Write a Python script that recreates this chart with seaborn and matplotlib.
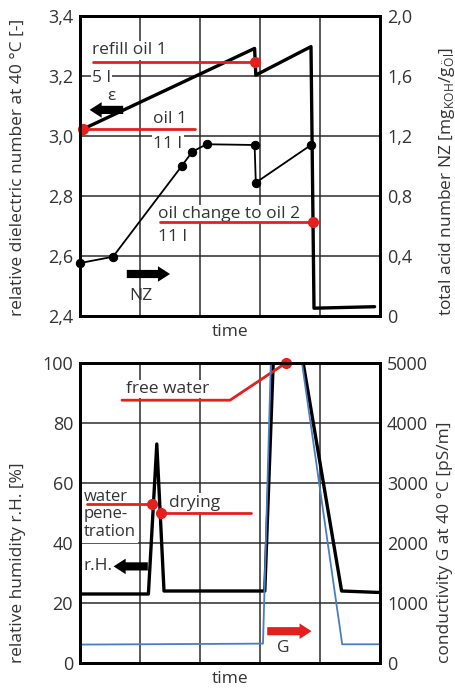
import numpy as np
import pandas as pd
import matplotlib
matplotlib.use("Agg")
import matplotlib.pyplot as plt
from matplotlib.ticker import FuncFormatter
import seaborn as sns

# top panel: dielectric number eps (left axis) and acid number NZ (right axis)
eps_time = [0.05, 2.91, 2.93, 3.85, 3.90, 4.91]
eps_value = [3.023, 3.292, 3.203, 3.298, 2.426, 2.431]
nz_time = [0.0, 0.55, 1.70, 1.87, 2.11, 2.91, 2.93, 3.85]
nz_value = [0.353, 0.395, 1.002, 1.095, 1.145, 1.14, 0.889, 1.14]

# bottom panel: relative humidity r.H. (left axis) and conductivity G (right axis)
rh_time = [0.0, 1.14, 1.28, 1.40, 3.08, 3.22, 3.72, 4.36, 5.0]
rh_value = [23, 23, 73, 24, 24, 100, 100, 24, 23.5]
g_time = [0.0, 3.05, 3.18, 3.70, 4.37, 5.0]
g_value = [307, 323, 5000, 5000, 312, 312]

eps_ticks = [2.4, 2.6, 2.8, 3.0, 3.2, 3.4]
nz_ticks = [0, 0.4, 0.8, 1.2, 1.6, 2.0]
rh_ticks = [0, 20, 40, 60, 80, 100]
g_ticks = [0, 1000, 2000, 3000, 4000, 5000]

RED = "#e3201e"
BLUE = "#4a7dc4"
TXT = "#333333"

sns.set_style("white")
plt.rcParams["font.family"] = ["Open Sans", "DejaVu Sans"]
plt.rcParams["mathtext.fontset"] = "custom"
plt.rcParams["mathtext.rm"] = "Open Sans"


def comma(v, pos):
    if abs(v) < 1e-9:
        return "0"
    return f"{v:.1f}".replace(".", ",")


def style(ax, ax2, yl, yr):
    ax.set_xlim(0, 5)
    ax.set_xticks([0, 1, 2, 3, 4, 5])
    ax.set_xticklabels([])
    ax.set_xlabel("time", fontsize=12.5, color=TXT, labelpad=1)
    ax.grid(True, color="#2b2b2b", lw=1.1)
    ax.set_axisbelow(True)
    for a in (ax, ax2):
        for s in a.spines.values():
            s.set_linewidth(2)
            s.set_color("black")
        a.tick_params(length=0, pad=5, labelsize=13, colors=TXT)
    ax.set_ylabel(yl, fontsize=12.5, color=TXT)
    ax2.set_ylabel(yr, fontsize=12.5, color=TXT)
    ax.yaxis.label.set_ha("left")
    ax2.yaxis.label.set_ha("left")
    ax.yaxis.set_label_coords(-0.18, 0.0)
    ax2.yaxis.set_label_coords(1.19, 0.0)


def label(ax, x, y, s, **kw):
    ax.text(x, y, s, fontsize=12.5, color=TXT, va="center", zorder=1.2,
            bbox=dict(fc="white", ec="none", pad=1), **kw)


def arrow(ax, tail, tip, color):
    ax.annotate("", xy=tip, xytext=tail, zorder=4,
                arrowprops=dict(arrowstyle="simple,head_length=0.62,head_width=0.8,tail_width=0.42",
                                fc=color, ec="none", shrinkA=0, shrinkB=0, mutation_scale=14))


fig = plt.figure(figsize=(4.56, 6.88), dpi=100)

# ---------- top panel ----------
ax1 = fig.add_axes([80 / 456, 1 - 316 / 688, 300 / 456, 300 / 688])
ax1b = ax1.twinx()

sns.lineplot(x=eps_time, y=eps_value, ax=ax1, color="black", lw=2.4,
             estimator=None, sort=False, zorder=3)
sns.lineplot(x=nz_time, y=nz_value, ax=ax1b, color="black", lw=1.3,
             estimator=None, sort=False, marker="o", markersize=6,
             markeredgecolor="black", clip_on=False)

ax1.set_ylim(2.4, 3.4)
ax1.set_yticks(eps_ticks)
ax1.yaxis.set_major_formatter(FuncFormatter(comma))
ax1b.set_ylim(0, 2.0)
ax1b.set_yticks(nz_ticks)
ax1b.yaxis.set_major_formatter(FuncFormatter(comma))
style(ax1, ax1b, "relative dielectric number at 40 °C [-]",
      r"total acid number NZ [mg$_\mathrm{KOH}$/g$_\mathrm{Öl}$]")

# annotations top
label(ax1, 0.2, 3.285, "refill oil 1")
label(ax1, 0.2, 3.195, "5 l")
ax1.plot([0.22, 2.92], [3.247, 3.247], color=RED, lw=2, zorder=4)
ax1.plot([2.92], [3.247], "o", color=RED, ms=7, zorder=5)
ax1.text(0.45, 3.135, "ε", fontsize=12.5, color=TXT, va="center")
arrow(ax1, (0.72, 3.087), (0.16, 3.087), "black")

label(ax1, 1.22, 3.056, "oil 1")
label(ax1, 1.22, 2.972, "11 l")
ax1.plot([0.05, 1.92], [3.023, 3.023], color=RED, lw=2, zorder=4)
ax1.plot([0.05], [3.023], "o", color=RED, ms=7, zorder=5, clip_on=False)

label(ax1, 1.3, 2.74, "oil change to oil 2")
label(ax1, 1.3, 2.663, "11 l")
ax1.plot([1.33, 3.88], [2.713, 2.713], color=RED, lw=2, zorder=4)
ax1.plot([3.88], [2.713], "o", color=RED, ms=7, zorder=5)
arrow(ax1, (0.78, 2.54), (1.5, 2.54), "black")
ax1.text(1.02, 2.467, "NZ", fontsize=12.5, color=TXT, va="center", ha="center")

# ---------- bottom panel ----------
ax2 = fig.add_axes([80 / 456, 1 - 663 / 688, 300 / 456, 300 / 688])
ax2b = ax2.twinx()

sns.lineplot(x=rh_time, y=rh_value, ax=ax2, color="black", lw=2.4,
             estimator=None, sort=False, zorder=3)
sns.lineplot(x=g_time, y=g_value, ax=ax2b, color=BLUE, lw=1.3,
             estimator=None, sort=False)

ax2.set_ylim(0, 100)
ax2.set_yticks(rh_ticks)
ax2b.set_ylim(0, 5000)
ax2b.set_yticks(g_ticks)
style(ax2, ax2b, "relative humidity r.H. [%]", "conductivity G at 40 °C [pS/m]")

label(ax2, 0.77, 91.3, "free water")
ax2.plot([0.7, 2.5, 3.43], [87.6, 87.6, 100], color=RED, lw=2, zorder=4)
ax2.plot([3.43], [100], "o", color=RED, ms=7, zorder=5, clip_on=False)

ax2.text(0.06, 49.5, "water\npene-\ntration", fontsize=12, color=TXT, va="center",
         linespacing=1.15, zorder=1.2, bbox=dict(fc="white", ec="none", pad=2))
ax2.plot([0.12, 1.2], [52.9, 52.9], color=RED, lw=2, zorder=4)
ax2.plot([1.2], [52.9], "o", color=RED, ms=7, zorder=5)

label(ax2, 1.48, 53.4, "drying")
ax2.plot([1.35, 2.85], [49.9, 49.9], color=RED, lw=2, zorder=4)
ax2.plot([1.35], [49.9], "o", color=RED, ms=7, zorder=5)

arrow(ax2, (1.13, 32.2), (0.56, 32.2), "black")
ax2.text(0.55, 32.2, "r.H.", fontsize=12.5, color=TXT, va="center", ha="right")
arrow(ax2, (3.12, 10.6), (3.86, 10.6), RED)
ax2.text(3.38, 4.9, "G", fontsize=12.5, color=TXT, va="center", ha="center")

fig.savefig("out.png", dpi=100)
